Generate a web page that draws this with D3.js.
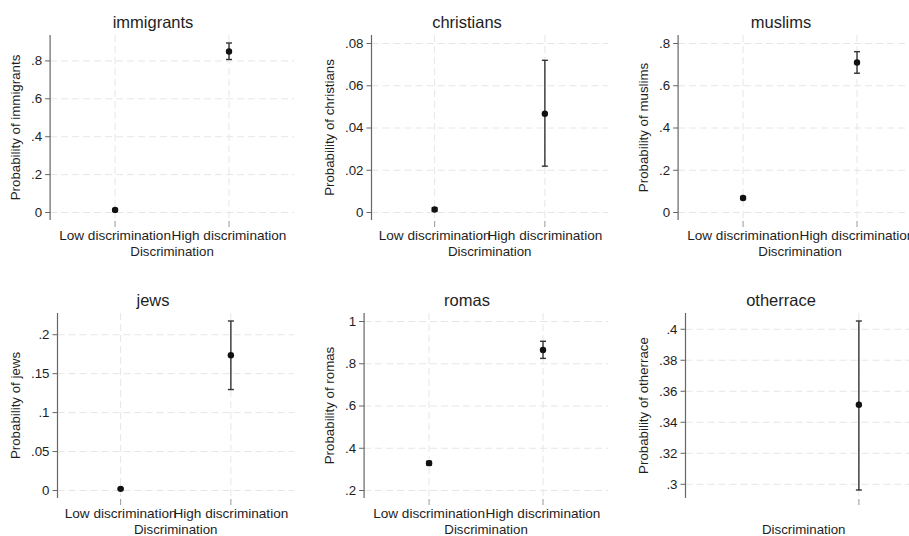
<!DOCTYPE html>
<meta charset="utf-8">
<head>
    <script src="https://d3js.org/d3.v7.min.js"></script>
    <style>
        body { margin: 0; background: #fff; }
        text { font-family: "Liberation Sans", Arial, Helvetica, sans-serif; fill: #1e1e1e; }
    </style>
</head>
<body>
<div id="graph"></div>
<script>
    // data
    var groups = ["immigrants", "christians", "muslims", "jews", "romas", "otherrace"];
    var categories = ["Low discrimination", "High discrimination"];
    var lowMargin  = [0.011, 0.0012, 0.066, 0.0015, 0.327, null];
    var lowLower   = [0.006, 0.0004, 0.059, 0.0005, 0.318, null];
    var lowUpper   = [0.016, 0.0020, 0.073, 0.0025, 0.336, null];
    var highMargin = [0.847, 0.0465, 0.708, 0.173, 0.863, 0.351];
    var highLower  = [0.805, 0.0217, 0.657, 0.129, 0.823, 0.296];
    var highUpper  = [0.892, 0.0718, 0.759, 0.217, 0.904, 0.405];
    var yTicks = [
        [0, .2, .4, .6, .8],
        [0, .02, .04, .06, .08],
        [0, .2, .4, .6, .8],
        [0, .05, .1, .15, .2],
        [.2, .4, .6, .8, 1],
        [.3, .32, .34, .36, .38, .4]
    ];
    var showXLabels = [true, true, true, true, true, false];

    var W = 909, H = 536;
    var colStart = [0, 314, 628];
    var rowTop = [0, 278];
    var pad = 8;

    var svg = d3.select("#graph").append("svg")
        .attr("width", W).attr("height", H);

    function fmt(d) {
        if (d === 0) return "0";
        if (d === 1) return "1";
        return String(+d.toFixed(3)).replace(/^0\./, ".");
    }

    // measure tick label width
    var meas = svg.append("text").style("font-size", "13.3px");
    function textW(s) { meas.text(s); return meas.node().getComputedTextLength(); }

    groups.forEach(function(name, i) {
        var col = i % 3, row = Math.floor(i / 3);
        var x0 = colStart[col], y0 = rowTop[row];
        var top = y0 + 35, bottom = y0 + 220;
        var maxw = d3.max(yTicks[i], function(t) { return textW(fmt(t)); });
        var left = x0 + 39 + maxw;
        var right = x0 + 294;

        var g = svg.append("g");

        var pts = [];
        if (lowMargin[i] != null) pts.push({c: categories[0], m: lowMargin[i], lo: lowLower[i], hi: lowUpper[i]});
        if (highMargin[i] != null) pts.push({c: categories[1], m: highMargin[i], lo: highLower[i], hi: highUpper[i]});

        var ymin = Math.min(d3.min(yTicks[i]), d3.min(pts, function(d) { return d.lo; }));
        var ymax = Math.max(d3.max(yTicks[i]), d3.max(pts, function(d) { return d.hi; }));
        var y = d3.scaleLinear().domain([ymin, ymax]).range([bottom - pad, top + pad]);

        var x = d3.scaleLinear().domain([0.5, 2.5]).range([left + pad, right - pad]);
        var xPos = function(c) { return x(categories.indexOf(c) + 1); };

        // horizontal grid
        g.append("g")
            .attr("transform", "translate(" + left + ",0)")
            .call(d3.axisRight(y).tickValues(yTicks[i]).tickSize(right - left).tickFormat(""))
            .call(function(s) {
                s.select(".domain").remove();
                s.selectAll("line").attr("stroke", "#e6e6e6").attr("stroke-dasharray", "7,4");
            });

        // vertical grid at categories
        g.selectAll(".vgrid").data(pts).enter().append("line")
            .attr("x1", function(d) { return xPos(d.c); })
            .attr("x2", function(d) { return xPos(d.c); })
            .attr("y1", top).attr("y2", bottom)
            .attr("stroke", "#e6e6e6").attr("stroke-dasharray", "7,4");

        // y axis
        g.append("g")
            .attr("transform", "translate(" + left + ",0)")
            .call(d3.axisLeft(y).tickValues(yTicks[i]).tickFormat(fmt).tickSize(5).tickPadding(3).tickSizeOuter(0))
            .call(function(s) {
                s.select(".domain").attr("d", "M0," + top + "V" + bottom).attr("stroke", "#666").attr("stroke-width", 1.2);
                s.selectAll("line").attr("stroke", "#666");
                s.selectAll("text").style("font-size", "13.3px").attr("fill", "#1e1e1e")
                    .attr("font-family", null);
            });

        // x ticks
        g.selectAll(".xtick").data(pts).enter().append("line")
            .attr("x1", function(d) { return xPos(d.c); })
            .attr("x2", function(d) { return xPos(d.c); })
            .attr("y1", bottom + 1).attr("y2", bottom + 7)
            .attr("stroke", "#999");

        if (showXLabels[i]) {
            g.selectAll(".xlab").data(pts).enter().append("text")
                .attr("x", function(d) { return xPos(d.c); })
                .attr("y", y0 + 240)
                .attr("text-anchor", "middle")
                .style("font-size", "13.6px")
                .text(function(d) { return d.c; });
        }

        // CI bars
        var cap = 3;
        pts.forEach(function(d) {
            var cx = xPos(d.c);
            g.append("line").attr("x1", cx).attr("x2", cx).attr("y1", y(d.lo)).attr("y2", y(d.hi))
                .attr("stroke", "#333").attr("stroke-width", 1.4);
            [d.lo, d.hi].forEach(function(v) {
                g.append("line").attr("x1", cx - cap).attr("x2", cx + cap).attr("y1", y(v)).attr("y2", y(v))
                    .attr("stroke", "#333").attr("stroke-width", 1.4);
            });
        });

        // points
        g.selectAll(".dot").data(pts).enter().append("circle")
            .attr("cx", function(d) { return xPos(d.c); })
            .attr("cy", function(d) { return y(d.m); })
            .attr("r", 3.2)
            .attr("fill", "#111");

        // titles
        g.append("text")
            .attr("x", x0 + 153).attr("y", y0 + 28)
            .attr("text-anchor", "middle")
            .style("font-size", "16.5px")
            .text(name);

        g.append("text")
            .attr("x", (left + right) / 2).attr("y", y0 + 256)
            .attr("text-anchor", "middle")
            .style("font-size", "13.3px")
            .text("Discrimination");

        g.append("text")
            .attr("transform", "translate(" + (x0 + 20) + "," + ((top + bottom) / 2) + ") rotate(-90)")
            .attr("text-anchor", "middle")
            .style("font-size", "13.3px")
            .text("Probability of " + name);
    });

    meas.remove();
</script>
</body>
